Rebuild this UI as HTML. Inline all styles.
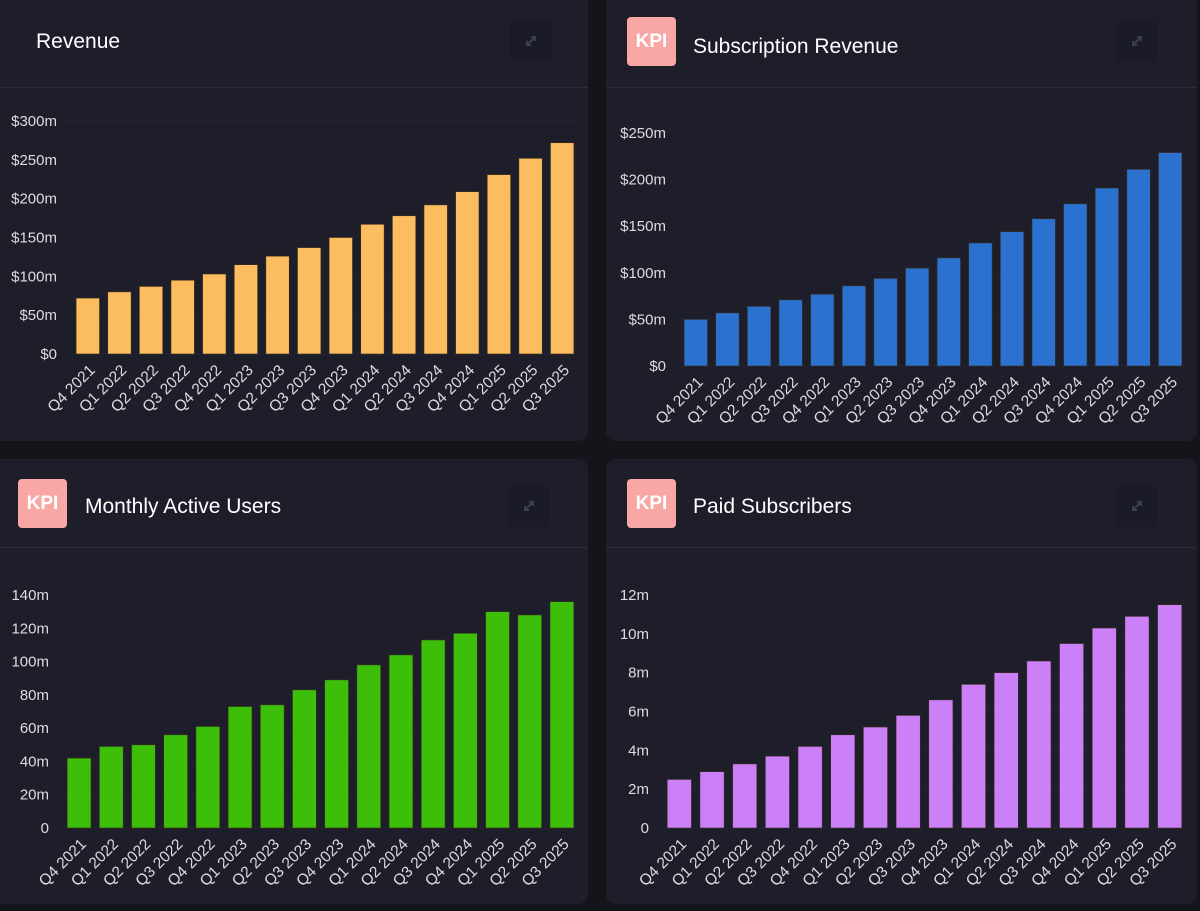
<!DOCTYPE html>
<html><head><meta charset="utf-8">
<style>
body{margin:0;width:1200px;height:911px;background:#14141b;overflow:hidden;font-family:"Liberation Sans",sans-serif;}
.panel{position:absolute;background:#1e1e2b;border-radius:10px;overflow:hidden;}
.hdr{position:absolute;left:0;right:0;top:0;height:87px;border-bottom:1px solid #2c2c3a;}
.title{position:absolute;color:#fff;font-size:21px;font-family:"Liberation Sans",sans-serif;font-weight:normal;}
.kpi{position:absolute;width:49px;height:49px;background:#f9a7a4;border-radius:4px;color:#fff;font-weight:bold;font-size:19px;line-height:49px;text-align:center;}
.exp{position:absolute;width:42px;height:42px;background:#1b1b27;border-radius:6px;}
svg{position:absolute;left:0;top:0;}
</style></head><body>
<div class="panel" style="left:-10px;top:-10px;width:598px;height:451px;">
 <div class="hdr" style="top:10px;"></div>
 <div class="title" style="left:46px;top:40px;">Revenue</div>
 <div class="exp" style="left:520px;top:30px;"><svg width="42" height="42"><path d="M17 25 L25 17 M21 17 H25 V21 M17 21 V25 H21" stroke="#3a3e4e" stroke-width="2" fill="none"/></svg></div>
</div>
<div class="panel" style="left:606px;top:-10px;width:591px;height:451px;">
 <div class="hdr" style="top:10px;"></div>
 <div class="kpi" style="left:21px;top:27px;">KPI</div>
 <div class="title" style="left:87px;top:45px;">Subscription Revenue</div>
 <div class="exp" style="left:510px;top:30px;"><svg width="42" height="42"><path d="M17 25 L25 17 M21 17 H25 V21 M17 21 V25 H21" stroke="#3a3e4e" stroke-width="2" fill="none"/></svg></div>
</div>
<div class="panel" style="left:-10px;top:459px;width:598px;height:445px;">
 <div class="hdr" style="height:88px;"></div>
 <div class="kpi" style="left:28px;top:20px;">KPI</div>
 <div class="title" style="left:95px;top:36px;">Monthly Active Users</div>
 <div class="exp" style="left:518px;top:26px;"><svg width="42" height="42"><path d="M17 25 L25 17 M21 17 H25 V21 M17 21 V25 H21" stroke="#3a3e4e" stroke-width="2" fill="none"/></svg></div>
</div>
<div class="panel" style="left:606px;top:459px;width:591px;height:445px;">
 <div class="hdr" style="height:88px;"></div>
 <div class="kpi" style="left:21px;top:20px;">KPI</div>
 <div class="title" style="left:87px;top:36px;">Paid Subscribers</div>
 <div class="exp" style="left:510px;top:26px;"><svg width="42" height="42"><path d="M17 25 L25 17 M21 17 H25 V21 M17 21 V25 H21" stroke="#3a3e4e" stroke-width="2" fill="none"/></svg></div>
</div>
<svg id="charts" width="1200" height="911"></svg>
<script>
const categories=["Q4 2021","Q1 2022","Q2 2022","Q3 2022","Q4 2022","Q1 2023","Q2 2023","Q3 2023","Q4 2023","Q1 2024","Q2 2024","Q3 2024","Q4 2024","Q1 2025","Q2 2025","Q3 2025"];
const revenueValues=[72,80,87,95,103,115,126,137,150,167,178,192,209,231,252,272];
const subscriptionValues=[50,57,64,71,77,86,94,105,116,132,144,158,174,191,211,229];
const mauValues=[42,49,50,56,61,73,74,83,89,98,104,113,117,130,128,136];
const paidValues=[2.5,2.9,3.3,3.7,4.2,4.8,5.2,5.8,6.6,7.4,8.0,8.6,9.5,10.3,10.9,11.5];
const revenueTicks=[0,50,100,150,200,250,300];
const revenueTickLabels=["$0","$50m","$100m","$150m","$200m","$250m","$300m"];
const subscriptionTicks=[0,50,100,150,200,250];
const subscriptionTickLabels=["$0","$50m","$100m","$150m","$200m","$250m"];
const mauTicks=[0,20,40,60,80,100,120,140];
const mauTickLabels=["0","20m","40m","60m","80m","100m","120m","140m"];
const paidTicks=[0,2,4,6,8,10,12];
const paidTickLabels=["0","2m","4m","6m","8m","10m","12m"];

const NS="http://www.w3.org/2000/svg";
const svg=document.getElementById('charts');
function mk(t,a){const e=document.createElementNS(NS,t);for(const k in a)e.setAttribute(k,a[k]);svg.appendChild(e);return e;}
function chart(name,vals,ticks,labels,color,box){
  const {x0,x1,y0,y1,labelX,max}=box;
  const ys=v=>y0-(v/max)*(y0-y1);
  const step=(x1-x0)/vals.length, bw=step*0.74;
  ticks.forEach((t,i)=>{
    const g=mk('line',{x1:x0-8,x2:x1,y1:ys(t),y2:ys(t),stroke:'#232330','stroke-width':1});
    
    
    const tx=mk('text',{x:labelX,y:ys(t)+5,fill:'#dcdce4','font-size':15,'text-anchor':'end','font-family':'Liberation Sans, sans-serif'});
    tx.textContent=labels[i];
    
    
  });
  vals.forEach((v,i)=>{
    const bx=x0+i*step+(step-bw)/2;
    const r=mk('rect',{x:bx,y:ys(v),width:bw,height:ys(0)-ys(v),fill:color,stroke:'#3a2e1e','stroke-width':0.6});
    
    
    const cx=bx+bw/2+8, cy=y0+17;
    const tx=mk('text',{x:cx,y:cy,fill:'#dcdce4','font-size':15.5,'text-anchor':'end','font-family':'Liberation Sans, sans-serif',transform:`rotate(-45 ${cx} ${cy})`});
    tx.textContent=categories[i];
    
    
  });
}
chart('revenue',revenueValues,revenueTicks,revenueTickLabels,'#fbbd5f',{x0:72,x1:578,y0:354,y1:121,labelX:57,max:300});
chart('subscription',subscriptionValues,subscriptionTicks,subscriptionTickLabels,'#2b72d0',{x0:680,x1:1186,y0:366,y1:133,labelX:666,max:250});
chart('mau',mauValues,mauTicks,mauTickLabels,'#3dbf0a',{x0:63,x1:578,y0:828,y1:595,labelX:49,max:140});
chart('paid',paidValues,paidTicks,paidTickLabels,'#cc80f8',{x0:663,x1:1186,y0:828,y1:595,labelX:649,max:12});
</script>
</body></html>
